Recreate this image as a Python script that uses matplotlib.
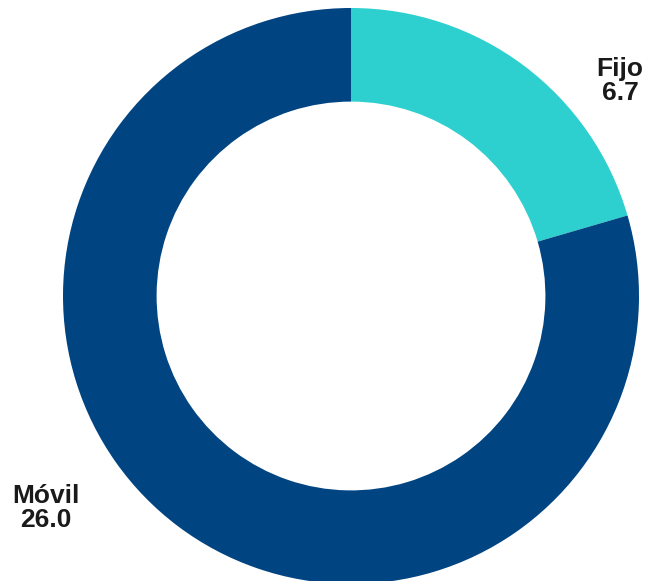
import matplotlib.pyplot as plt

labels = ['Fijo', 'Móvil']
values = [6.7, 26.0]
colors = ['#2ECFCF', '#004481']

fig = plt.figure(figsize=(6.48, 5.81), dpi=100)
ax = fig.add_axes([0, 0, 1, 1])

ax.pie(values, colors=colors, startangle=90, counterclock=False,
       radius=1.0, wedgeprops=dict(width=0.325, edgecolor='none'))

ax.set_xlim(-351 / 288, (648 - 351) / 288)
ax.set_ylim(-(581 - 296) / 288, 296 / 288)
ax.set_aspect('equal')
ax.axis('off')

# outer labels: name on top, value below (baseline positions)
label_pos = [(0.934, 0.764), (-1.059, -0.719)]
line_gap = 0.083
for name, val, (x, y) in zip(labels, values, label_pos):
    style = dict(ha='center', va='baseline', fontsize=19, fontweight='bold',
                 family='Liberation Sans', color='#1a1a1a')
    ax.text(x, y, name, **style)
    ax.text(x, y - line_gap, f'{val:.1f}', **style)

fig.savefig('out.png', dpi=100)
